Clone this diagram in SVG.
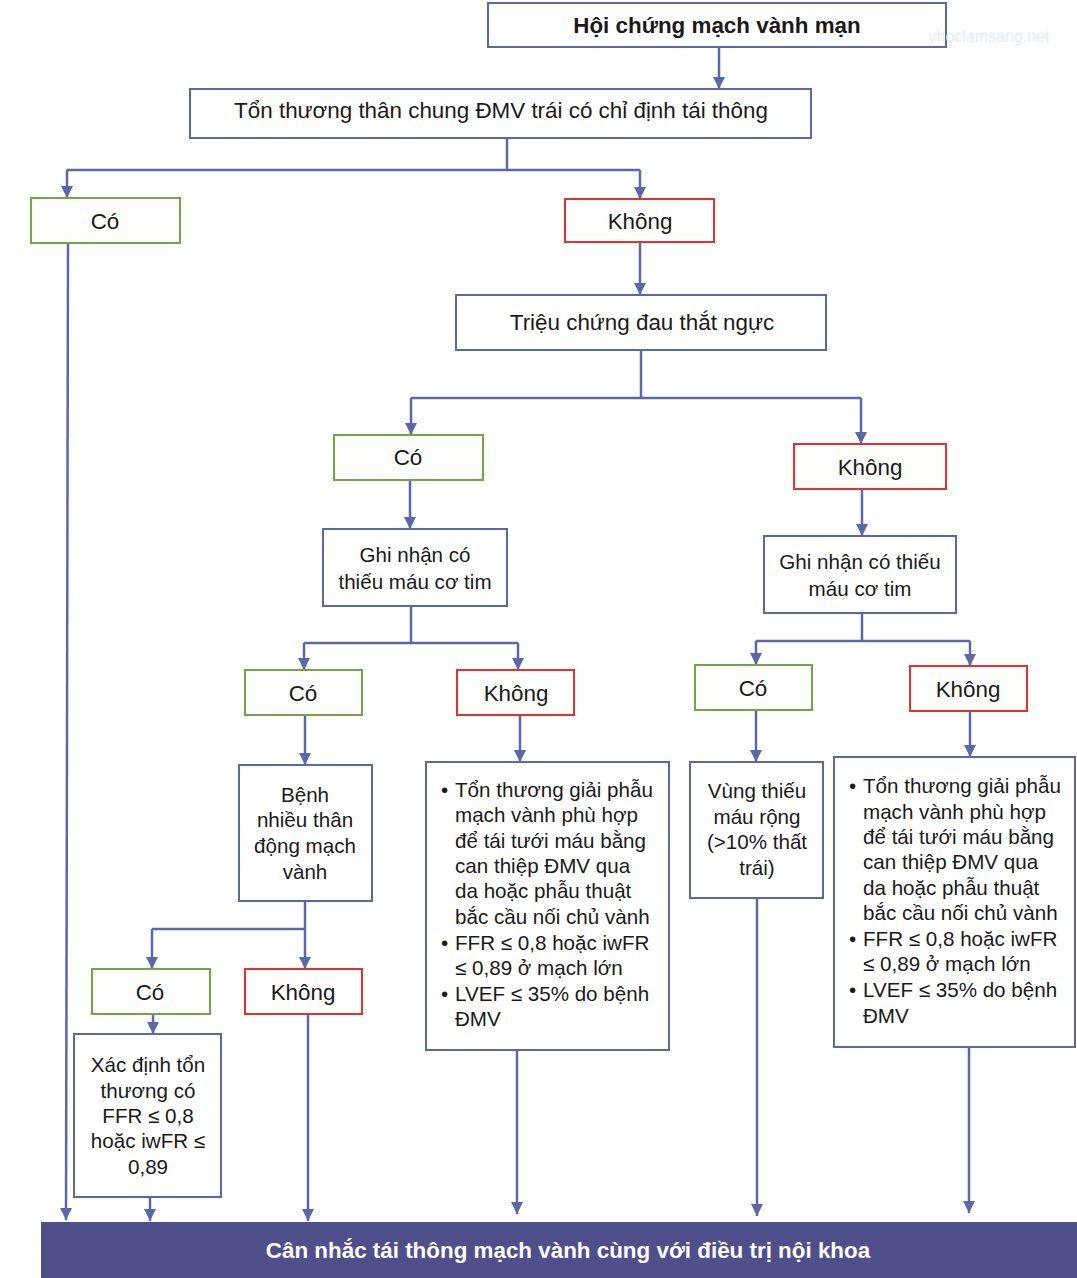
<svg xmlns="http://www.w3.org/2000/svg" width="1077" height="1278" viewBox="0 0 1077 1278">
<defs>
<marker id="ah" markerUnits="userSpaceOnUse" markerWidth="12" markerHeight="12" viewBox="0 0 12 12" refX="12" refY="6" orient="auto">
<path d="M0,0 L12,6 L0,12 Z" fill="#5a67a8"/>
</marker>
<style>
.box{fill:#fff;stroke:#5a67a8;stroke-width:2}
.yes{fill:#fdfdfb;stroke:#73a447;stroke-width:2}
.no{fill:#fdfdfb;stroke:#e2322f;stroke-width:2}
.t{font-family:"Liberation Sans",Arial,sans-serif;font-size:20.6px;fill:#1a1a1a;text-anchor:middle}
.L{font-size:22.4px}
.b{font-family:"Liberation Sans",Arial,sans-serif;font-size:20.6px;fill:#1a1a1a}
.c{fill:none;stroke:#5a67a8;stroke-width:2.5}
.a{marker-end:url(#ah)}
</style>
</defs>
<rect width="1077" height="1278" fill="#fff"/>
<g id="connectors">
<path class="c a" d="M719,47 V89"/>
<path class="c" d="M507,138 V170 M67,170 H640"/>
<path class="c a" d="M67,170 V198"/>
<path class="c a" d="M640,170 V199"/>
<path class="c a" d="M68,243 L66,1220"/>
<path class="c a" d="M640,243 V295"/>
<path class="c" d="M641,350 V398 M411,398 H861"/>
<path class="c a" d="M411,398 V435"/>
<path class="c a" d="M861,398 V444"/>
<path class="c a" d="M410,481 V529"/>
<path class="c" d="M411,606 V643 M304,643 H518"/>
<path class="c a" d="M304,643 V670"/>
<path class="c a" d="M518,643 V670"/>
<path class="c a" d="M862,489 V536"/>
<path class="c" d="M862,613 V641 M756,641 H970"/>
<path class="c a" d="M756,641 V665"/>
<path class="c a" d="M970,641 V666"/>
<path class="c a" d="M305,715 V765"/>
<path class="c" d="M305,901 V929 M152,929 H305"/>
<path class="c a" d="M152,929 V969"/>
<path class="c a" d="M305,929 V969"/>
<path class="c a" d="M153,1014 V1034"/>
<path class="c a" d="M150,1197 V1221"/>
<path class="c a" d="M308,1014 L308,1221"/>
<path class="c a" d="M520,715 V762"/>
<path class="c a" d="M517,1050 V1214"/>
<path class="c a" d="M756,710 V762"/>
<path class="c a" d="M757,898 V1216"/>
<path class="c a" d="M970,711 V757"/>
<path class="c a" d="M969,1047 V1213"/>
</g>
<g id="n1">
<rect class="box" x="488" y="3" width="458" height="44"/>
<text class="t L" x="717" y="33" style="font-weight:bold">Hội chứng mạch vành mạn</text>
</g>
<text x="989" y="42" style="font-family:'Liberation Sans',Arial,sans-serif;font-size:16px;fill:#e4ebf5;text-anchor:middle">yhoclamsang.net</text>
<g id="n2">
<rect class="box" x="190" y="89" width="621" height="49"/>
<text class="t L" x="501" y="118">Tổn thương thân chung ĐMV trái có chỉ định tái thông</text>
</g>
<g id="n3">
<rect class="yes" x="31" y="198" width="149" height="45"/>
<text class="t L" x="105" y="229">Có</text>
</g>
<g id="n4">
<rect class="no" x="565" y="199" width="149" height="43"/>
<text class="t L" x="640" y="229">Không</text>
</g>
<g id="n5">
<rect class="box" x="456" y="295" width="370" height="55"/>
<text class="t L" x="642" y="330">Triệu chứng đau thắt ngực</text>
</g>
<g id="n6">
<rect class="yes" x="334" y="435" width="149" height="45"/>
<text class="t L" x="408" y="465">Có</text>
</g>
<g id="n7">
<rect class="no" x="794" y="444" width="152" height="45"/>
<text class="t L" x="870" y="475">Không</text>
</g>
<g id="n8">
<rect class="box" x="323" y="529" width="184" height="77"/>
<text class="t" x="415" y="562">Ghi nhận có</text>
<text class="t" x="415" y="589">thiếu máu cơ tim</text>
</g>
<g id="n9">
<rect class="yes" x="245" y="670" width="117" height="45"/>
<text class="t L" x="303" y="701">Có</text>
</g>
<g id="n10">
<rect class="no" x="457" y="670" width="117" height="45"/>
<text class="t L" x="516" y="701">Không</text>
</g>
<g id="n11">
<rect class="box" x="764" y="536" width="192" height="77"/>
<text class="t" x="860" y="569">Ghi nhận có thiếu</text>
<text class="t" x="860" y="596">máu cơ tim</text>
</g>
<g id="n12">
<rect class="yes" x="695" y="665" width="117" height="45"/>
<text class="t L" x="753" y="696">Có</text>
</g>
<g id="n13">
<rect class="no" x="910" y="666" width="117" height="45"/>
<text class="t L" x="968" y="697">Không</text>
</g>
<g id="n14">
<rect class="box" x="239" y="765" width="133" height="136"/>
<text class="t" x="305" y="802">Bệnh</text>
<text class="t" x="305" y="827">nhiều thân</text>
<text class="t" x="305" y="853">động mạch</text>
<text class="t" x="305" y="879">vành</text>
</g>
<g id="n15">
<rect class="yes" x="92" y="969" width="118" height="45"/>
<text class="t L" x="150" y="1000">Có</text>
</g>
<g id="n16">
<rect class="no" x="245" y="969" width="117" height="45"/>
<text class="t L" x="303" y="1000">Không</text>
</g>
<g id="n17">
<rect class="box" x="74" y="1034" width="147" height="163"/>
<text class="t" x="148" y="1072">Xác định tổn</text>
<text class="t" x="148" y="1098">thương có</text>
<text class="t" x="148" y="1123">FFR ≤ 0,8</text>
<text class="t" x="148" y="1148">hoặc iwFR ≤</text>
<text class="t" x="148" y="1174">0,89</text>
</g>
<g id="n18">
<rect class="box" x="426" y="762" width="243" height="288"/>
<text class="b" x="441" y="797">•</text><text class="b" x="455" y="797">Tổn thương giải phẫu</text>
<text class="b" x="455" y="822">mạch vành phù hợp</text>
<text class="b" x="455" y="848">để tái tưới máu bằng</text>
<text class="b" x="455" y="873">can thiệp ĐMV qua</text>
<text class="b" x="455" y="898">da hoặc phẫu thuật</text>
<text class="b" x="455" y="924">bắc cầu nối chủ vành</text>
<text class="b" x="441" y="950">•</text><text class="b" x="455" y="950">FFR ≤ 0,8 hoặc iwFR</text>
<text class="b" x="455" y="975">≤ 0,89 ở mạch lớn</text>
<text class="b" x="441" y="1001">•</text><text class="b" x="455" y="1001">LVEF ≤ 35% do bệnh</text>
<text class="b" x="455" y="1026">ĐMV</text>
</g>
<g id="n19">
<rect class="box" x="690" y="762" width="133" height="136"/>
<text class="t" x="757" y="798">Vùng thiếu</text>
<text class="t" x="757" y="824">máu rộng</text>
<text class="t" x="757" y="849">(&gt;10% thất</text>
<text class="t" x="757" y="875">trái)</text>
</g>
<g id="n20">
<rect class="box" x="834" y="757" width="241" height="290"/>
<text class="b" x="849" y="793">•</text><text class="b" x="863" y="793">Tổn thương giải phẫu</text>
<text class="b" x="863" y="819">mạch vành phù hợp</text>
<text class="b" x="863" y="844">để tái tưới máu bằng</text>
<text class="b" x="863" y="869">can thiệp ĐMV qua</text>
<text class="b" x="863" y="895">da hoặc phẫu thuật</text>
<text class="b" x="863" y="920">bắc cầu nối chủ vành</text>
<text class="b" x="849" y="946">•</text><text class="b" x="863" y="946">FFR ≤ 0,8 hoặc iwFR</text>
<text class="b" x="863" y="971">≤ 0,89 ở mạch lớn</text>
<text class="b" x="849" y="997">•</text><text class="b" x="863" y="997">LVEF ≤ 35% do bệnh</text>
<text class="b" x="863" y="1023">ĐMV</text>
</g>
<g id="n21">
<rect x="41" y="1222" width="1036" height="56" fill="#4f4f8c"/>
<text class="t L" x="568" y="1258" style="font-weight:bold;fill:#fff">Cân nhắc tái thông mạch vành cùng với điều trị nội khoa</text>
</g>
</svg>
